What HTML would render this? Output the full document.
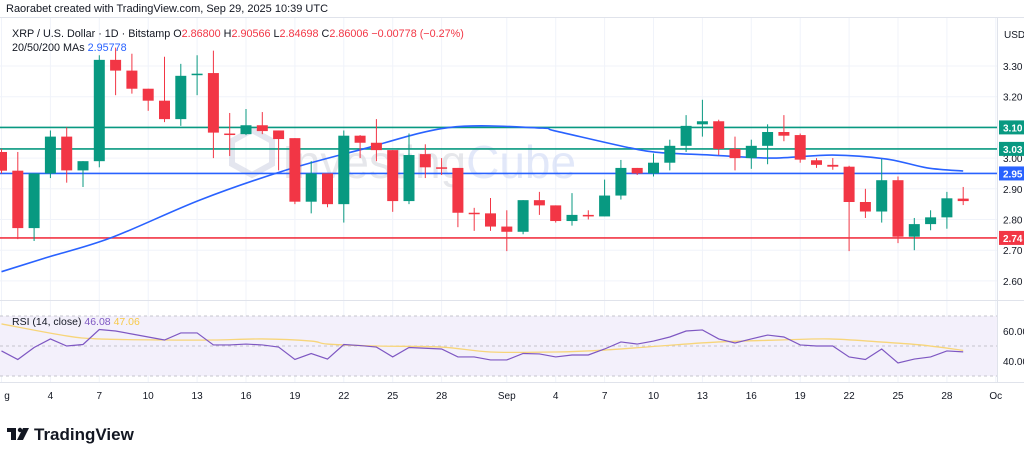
<!DOCTYPE html>
<html><head><meta charset="utf-8"><style>
body{margin:0;background:#fff;width:1024px;height:452px;overflow:hidden;font-family:"Liberation Sans",sans-serif}
svg{display:block}
</style></head><body>
<svg id="c" width="1024" height="452" xmlns="http://www.w3.org/2000/svg">
<text x="6" y="12" font-size="11" fill="#131722">Raorabet created with TradingView.com, Sep 29, 2025 10:39 UTC</text>
<line x1="0" y1="17.5" x2="1024" y2="17.5" stroke="#e0e3eb"/>
<g id="grid"></g>
<g opacity="0.5">
<polygon points="252,130 272,141 272,164 252,175 232,164 232,141" fill="none" stroke="#c9cde0" stroke-width="6"/>
<text x="282" y="178" font-size="46" fill="#cfd1d8">Investing<tspan fill="#c7d3f5">Cube</tspan></text>
</g>
<g id="levels"></g>
<g id="ma"></g>
<g id="candles"></g>
<g id="rsi"></g>
<g id="axis"></g>
<text x="12" y="37" font-size="10.8" fill="#131722">XRP / U.S. Dollar · 1D · Bitstamp  O<tspan fill="#f23645">2.86800</tspan>  H<tspan fill="#f23645">2.90566</tspan>  L<tspan fill="#f23645">2.84698</tspan>  C<tspan fill="#f23645">2.86006</tspan>  <tspan fill="#f23645">−0.00778 (−0.27%)</tspan></text>
<text x="12" y="51" font-size="10.8" fill="#131722">20/50/200 MAs  <tspan fill="#2962ff">2.95778</tspan></text>
<text x="12" y="325" font-size="10.5" fill="#131722">RSI (14, close)  <tspan fill="#7e57c2">46.08</tspan>  <tspan fill="#f7c948">47.06</tspan></text>
<g>
<rect x="7" y="428" width="9" height="4" fill="#131722"/><rect x="11" y="428" width="5" height="12" fill="#131722"/>
<circle cx="20" cy="430" r="2.2" fill="#131722"/><polygon points="23,428 29,428 23,440 17,440" fill="#131722"/>
<text x="34" y="440" font-size="17" font-weight="bold" fill="#131722">TradingView</text>
</g>
</svg>
<script>
const days=[0,1,2,3,4,5,6,7,8,9,10,11,12,13,14,15,16,17,18,19,20,21,22,23,24,25,26,27,28,29,30,31,32,33,34,35,36,37,38,39,40,41,42,43,44,45,46,47,48,49,50,51,52,53,54,55,56,57,58,59];
const opens=[3.02,2.959,2.772,2.95,3.07,2.96,2.99,3.32,3.285,3.226,3.187,3.127,3.27,3.277,3.08,3.078,3.107,3.09,3.065,2.858,2.95,2.85,3.073,3.05,3.026,2.86,3.013,2.97,2.968,2.822,2.82,2.777,2.76,2.863,2.846,2.795,2.815,2.81,2.878,2.968,2.95,2.985,3.04,3.11,3.12,3.03,3.0,3.04,3.085,3.075,2.993,2.978,2.972,2.857,2.826,2.928,2.744,2.785,2.807,2.868];
const highs=[3.03,3.02,2.95,3.09,3.10,2.99,3.335,3.36,3.34,3.226,3.33,3.307,3.335,3.35,3.147,3.16,3.15,3.09,3.065,2.99,2.95,3.09,3.075,3.127,3.026,3.08,3.045,3.0,2.968,2.838,2.87,2.83,2.863,2.89,2.846,2.886,2.83,2.93,2.994,2.968,3.015,3.06,3.14,3.19,3.125,3.07,3.06,3.11,3.14,3.08,3.0,3.0,2.975,2.9,2.997,2.94,2.805,2.83,2.89,2.906];
const lows=[2.95,2.736,2.73,2.935,2.92,2.906,2.97,3.205,3.21,3.154,3.117,3.105,3.205,3.0,3.007,3.075,3.078,2.96,2.85,2.82,2.84,2.79,3.0,2.99,2.825,2.85,2.935,2.945,2.775,2.763,2.763,2.697,2.752,2.815,2.79,2.78,2.8,2.81,2.865,2.945,2.94,2.96,3.02,3.07,3.01,2.96,2.965,2.98,3.055,2.985,2.968,2.962,2.697,2.805,2.79,2.723,2.7,2.765,2.77,2.847];
const closes=[2.959,2.772,2.95,3.07,2.96,2.99,3.32,3.285,3.226,3.187,3.127,3.268,3.275,3.083,3.078,3.107,3.088,3.062,2.858,2.95,2.85,3.073,3.05,3.026,2.86,3.01,2.97,2.968,2.822,2.82,2.777,2.76,2.863,2.846,2.795,2.815,2.81,2.878,2.968,2.95,2.985,3.04,3.105,3.12,3.03,3.0,3.04,3.085,3.073,2.995,2.978,2.972,2.857,2.826,2.928,2.744,2.785,2.807,2.869,2.86];
const maDays=[0,2.7,6.7,12.2,17.4,22,27.5,33,34,38.4,40.4,43.5,47.2,51,54.3,56.8,59];
const maValues=[2.63,2.675,2.74,2.864,2.96,3.027,3.10,3.098,3.088,3.035,3.018,3.01,3.0,3.01,2.997,2.968,2.958];
const rsiValues=[46.7,41,49,54.7,50,51,61,60,58,56,54,58.7,58.7,50.7,50.7,51.3,50.7,49.3,41,45,41.3,51,50.3,49.3,42.7,49,48.5,48,42.7,42.7,40.7,40.7,45,44.7,42.7,44,44,48,52.7,51.3,53.3,56,60,60.7,54.7,52,54.7,57.3,56,50.7,50,50,42.7,41,48,38.7,41.3,42.7,46.7,46.1];
const rsiMaDays=[0,4,6,10,13,16,19,20,23,27,30,34,37,40.4,44,47.8,50.8,53.9,56.4,59];
const rsiMaValues=[64.7,56.7,54.7,54,54,54.7,53.3,51.3,50,49.3,46,46,47.3,50,52.7,54,54.7,52.7,50.7,47.1];
const priceTicks=["3.30","3.20","3.10","3.00","2.90","2.80","2.70","2.60"];
const levelValues=[3.10,3.03,2.95,2.74];
const levelLabels=["3.10","3.03","2.95","2.74"];
const levelColors=["#089981","#089981","#2962ff","#f23645"];
const dateDays=[0,3,6,9,12,15,18,21,24,27,31,34,37,40,43,46,49,52,55,58,61];
const dateLabels=["g","4","7","10","13","16","19","22","25","28","Sep","4","7","10","13","16","19","22","25","28","Oc"];

const NS="http://www.w3.org/2000/svg";
const X=d=>1.5+16.3*d;
const Y=p=>66+(3.30-p)*307;
const RY=v=>346-(v-50)*1.5;
const PR=997;
function mk(tag,attrs,parent){const e=document.createElementNS(NS,tag);for(const k in attrs)e.setAttribute(k,attrs[k]);parent.appendChild(e);return e;}
const $=id=>document.getElementById(id);
function smooth(pts){let d='M'+pts[0][0]+','+pts[0][1];
for(let i=0;i<pts.length-1;i++){const p0=pts[Math.max(0,i-1)],p1=pts[i],p2=pts[i+1],p3=pts[Math.min(pts.length-1,i+2)];
const c1=[p1[0]+(p2[0]-p0[0])/6,p1[1]+(p2[1]-p0[1])/6],c2=[p2[0]-(p3[0]-p1[0])/6,p2[1]-(p3[1]-p1[1])/6];
d+=` C${c1[0]},${c1[1]} ${c2[0]},${c2[1]} ${p2[0]},${p2[1]}`;}return d;}

const grid=$('grid');
dateDays.forEach(d=>{const l=mk('line',{x1:X(d),x2:X(d),y1:18,y2:382,stroke:'#f0f3fa'},grid);

});
priceTicks.forEach(t=>{const l=mk('line',{x1:0,x2:PR,y1:Y(+t),y2:Y(+t),stroke:'#f0f3fa'},grid);

});
mk('line',{x1:PR+0.5,x2:PR+0.5,y1:18,y2:382,stroke:'#e0e3eb'},grid);
mk('line',{x1:0,x2:1024,y1:300.5,y2:300.5,stroke:'#e0e3eb'},grid);
mk('line',{x1:0,x2:1024,y1:382.5,y2:382.5,stroke:'#e0e3eb'},grid);

const lv=$('levels');
levelValues.forEach((v,i)=>{const l=mk('line',{x1:0,x2:PR,y1:Y(v),y2:Y(v),stroke:levelColors[i],'stroke-width':1.6},lv);

});

const ma=mk('path',{d:smooth(maDays.map((d,i)=>[X(d),Y(maValues[i])])),fill:'none',stroke:'#2962ff','stroke-width':1.6},$('ma'));



const cg=$('candles');
days.forEach((d,i)=>{const up=closes[i]>=opens[i];const col=up?'#089981':'#f23645';const x=X(d);
const w=mk('line',{x1:x,x2:x,y1:Y(highs[i]),y2:Y(lows[i]),stroke:col,'stroke-width':1},cg);


const t=Y(Math.max(opens[i],closes[i])),b=Y(Math.min(opens[i],closes[i]));
const r=mk('rect',{x:x-5.5,y:t,width:11,height:Math.max(1.5,b-t),fill:col},cg);

});

const rg=$('rsi');
mk('rect',{x:0,y:RY(70),width:PR,height:RY(30)-RY(70),fill:'#f3f0fb'},rg);
[70,50,30].forEach(v=>mk('line',{x1:0,x2:PR,y1:RY(v),y2:RY(v),stroke:'#c4c4cc','stroke-dasharray':'3,3'},rg));
const rma=mk('path',{d:smooth(rsiMaDays.map((d,i)=>[X(d),RY(rsiMaValues[i])])),fill:'none',stroke:'#f7d57a','stroke-width':1.3},rg);


const rl=mk('polyline',{points:days.map((d,i)=>X(d)+','+RY(rsiValues[i])).join(' '),fill:'none',stroke:'#7e57c2','stroke-width':1.2},rg);



const ax=$('axis');
const usd=mk('text',{x:1004,y:38,'font-size':10,fill:'#131722'},ax);usd.textContent='USD';


priceTicks.forEach(t=>{const e=mk('text',{x:1003,y:Y(+t)+4,'font-size':10,fill:'#131722'},ax);e.textContent=t;

});
levelValues.forEach((v,i)=>{const r=mk('rect',{x:999,y:Y(v)-7,width:25,height:14,fill:levelColors[i]},ax);


const e=mk('text',{x:1003,y:Y(v)+4,'font-size':10,'font-weight':'bold',fill:'#fff'},ax);e.textContent=levelLabels[i];

});
[["60.00",60],["40.00",40]].forEach(([t,v])=>{const e=mk('text',{x:1003,y:RY(v)+4,'font-size':10,fill:'#131722'},ax);e.textContent=t;

});
dateDays.forEach((d,i)=>{const e=mk('text',{x:X(d),y:399,'font-size':10,fill:'#131722','text-anchor':'middle'},ax);e.textContent=dateLabels[i];
if(i===0)e.setAttribute('x',7);

});
</script>
</body></html>
